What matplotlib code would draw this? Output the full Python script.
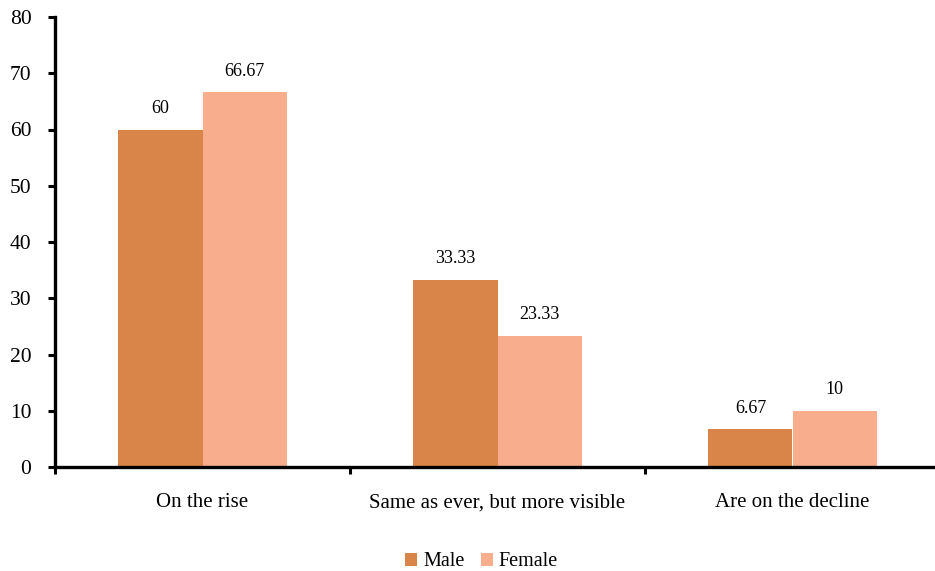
import matplotlib.pyplot as plt
import numpy as np

categories = ["On the rise", "Same as ever, but more visible", "Are on the decline"]
male = [60, 33.33, 6.67]
female = [66.67, 23.33, 10]
male_labels = ["60", "33.33", "6.67"]
female_labels = ["66.67", "23.33", "10"]

male_color = "#D98448"
female_color = "#F8AE8C"
serif = "Liberation Serif"

fig = plt.figure(figsize=(9.35, 5.71), dpi=100)
ax = fig.add_axes([55 / 935, 104 / 571, 885 / 935, 450 / 571])

x = np.arange(len(categories))
w = 0.285
b1 = ax.bar(x - w / 2, male, w, color=male_color, label="Male")
b2 = ax.bar(x + w / 2, female, w, color=female_color, label="Female")

for bars, labs in ((b1, male_labels), (b2, female_labels)):
    for bar, lab in zip(bars, labs):
        ax.text(bar.get_x() + bar.get_width() / 2, bar.get_height() + 3.7, lab,
                ha="center", va="center", family=serif, fontsize=13)

ax.set_xlim(-0.5, 2.5)
ax.set_ylim(0, 80)
ax.set_yticks(range(0, 81, 10))
ax.set_yticklabels([str(v) for v in range(0, 81, 10)], family=serif, fontsize=15.5)

# category ticks sit on the boundaries, labels in the middle
ax.set_xticks([-0.5, 0.5, 1.5, 2.5])
ax.set_xticklabels([])
ax.set_xticks(x, minor=True)
ax.set_xticklabels(categories, minor=True, family=serif, fontsize=15)
ax.tick_params(axis="x", which="minor", length=0, pad=19)
ax.tick_params(axis="x", which="major", length=5, width=2.2, direction="out")
ax.tick_params(axis="y", length=5, width=2.2, direction="out", pad=12)

for s in ("top", "right"):
    ax.spines[s].set_visible(False)
for s in ("left", "bottom"):
    ax.spines[s].set_linewidth(2.4)

fig.legend(handles=[b1, b2], loc="center", bbox_to_anchor=(0.515, 0.016), ncol=2,
           frameon=False, prop={"family": serif, "size": 14.5},
           handlelength=0.6, handleheight=0.6, handletextpad=0.3, columnspacing=0.8)

fig.savefig("out.png", dpi=100)
